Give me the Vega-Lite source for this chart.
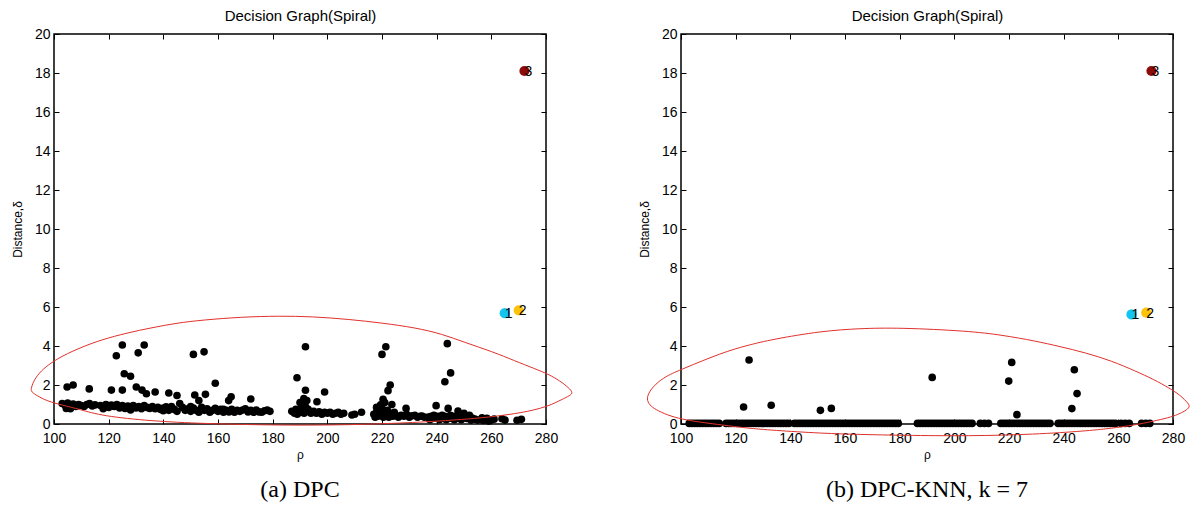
{
  "$schema": "https://vega.github.io/schema/vega-lite/v6.json",
  "background": "white",
  "padding": {"left": 10, "top": 7, "right": 5, "bottom": 5},
  "bounds": "flush",
  "spacing": 135,
  "config": {
    "font": "Liberation Sans",
    "view": {"stroke": "#000000", "strokeWidth": 1.5},
    "axis": {
      "grid": false,
      "domain": false,
      "tickSize": -5,
      "tickColor": "#000000",
      "tickWidth": 1,
      "labelFont": "Liberation Sans",
      "labelFontSize": 14,
      "labelColor": "#000000",
      "labelPadding": 9,
      "labelFlush": false,
      "titleFont": "Liberation Sans",
      "titleFontSize": 12,
      "titleFontWeight": "normal",
      "titleColor": "#000000"
    }
  },
  "datasets": {
    "pa": [
      {"p": 104.8, "d": 1.9}, {"p": 107, "d": 2.0}, {"p": 112.9, "d": 1.8}, {"p": 121, "d": 1.74}, {"p": 125, "d": 1.74},
      {"p": 125, "d": 4.05}, {"p": 122.8, "d": 3.5}, {"p": 130.8, "d": 3.65}, {"p": 133, "d": 4.05}, {"p": 125.7, "d": 2.58},
      {"p": 128, "d": 2.45}, {"p": 130.1, "d": 1.9}, {"p": 132.2, "d": 1.74}, {"p": 133.8, "d": 1.55}, {"p": 137, "d": 1.64},
      {"p": 142, "d": 1.59}, {"p": 145, "d": 1.46}, {"p": 151, "d": 3.57}, {"p": 154.9, "d": 3.7}, {"p": 159, "d": 2.09},
      {"p": 151.5, "d": 1.49}, {"p": 155.4, "d": 1.52}, {"p": 153, "d": 1.2}, {"p": 164.8, "d": 1.4}, {"p": 163.9, "d": 1.2},
      {"p": 172, "d": 1.28},
      {"p": 103, "d": 1.05}, {"p": 104, "d": 0.98}, {"p": 104.5, "d": 0.8}, {"p": 105, "d": 1.08}, {"p": 106, "d": 0.95},
      {"p": 106, "d": 0.78}, {"p": 107, "d": 1.02}, {"p": 108, "d": 0.9}, {"p": 109, "d": 1.0}, {"p": 110, "d": 0.95},
      {"p": 111, "d": 0.9}, {"p": 112, "d": 1.0}, {"p": 113, "d": 1.05}, {"p": 114, "d": 0.92}, {"p": 115, "d": 0.98},
      {"p": 117, "d": 0.95}, {"p": 118, "d": 0.9}, {"p": 118, "d": 0.78}, {"p": 119, "d": 1.0}, {"p": 120, "d": 0.85},
      {"p": 121, "d": 0.97}, {"p": 122, "d": 0.9}, {"p": 123, "d": 1.0}, {"p": 124, "d": 0.82}, {"p": 125, "d": 0.95},
      {"p": 126, "d": 0.8}, {"p": 127, "d": 0.92}, {"p": 128, "d": 0.85}, {"p": 128, "d": 0.72}, {"p": 129, "d": 0.95},
      {"p": 130, "d": 0.82}, {"p": 131, "d": 0.9}, {"p": 132, "d": 0.78}, {"p": 133, "d": 0.95}, {"p": 134, "d": 0.85},
      {"p": 135, "d": 0.8}, {"p": 136, "d": 0.9}, {"p": 137, "d": 0.78}, {"p": 138, "d": 0.85}, {"p": 139, "d": 0.75},
      {"p": 140, "d": 0.82}, {"p": 140, "d": 0.68}, {"p": 141, "d": 0.88}, {"p": 142, "d": 0.7}, {"p": 143, "d": 0.9},
      {"p": 144, "d": 0.75}, {"p": 145, "d": 0.65}, {"p": 146, "d": 1.05}, {"p": 147, "d": 0.85}, {"p": 148, "d": 0.7},
      {"p": 149, "d": 0.78}, {"p": 150, "d": 0.65}, {"p": 150, "d": 0.9}, {"p": 151, "d": 0.82}, {"p": 152, "d": 0.7},
      {"p": 153, "d": 0.6}, {"p": 154, "d": 0.85}, {"p": 155, "d": 0.7}, {"p": 156, "d": 0.78}, {"p": 157, "d": 0.6},
      {"p": 158, "d": 0.7}, {"p": 159, "d": 0.8}, {"p": 160, "d": 0.65}, {"p": 161, "d": 0.75}, {"p": 162, "d": 0.6},
      {"p": 162, "d": 0.75}, {"p": 163, "d": 0.7}, {"p": 164, "d": 0.62}, {"p": 165, "d": 0.75}, {"p": 166, "d": 0.6},
      {"p": 167, "d": 0.7}, {"p": 168, "d": 0.65}, {"p": 169, "d": 0.72}, {"p": 170, "d": 0.78}, {"p": 171, "d": 0.62},
      {"p": 172, "d": 0.7}, {"p": 173, "d": 0.6}, {"p": 174, "d": 0.72}, {"p": 175, "d": 0.62}, {"p": 176, "d": 0.6},
      {"p": 177, "d": 0.68}, {"p": 178, "d": 0.72}, {"p": 179, "d": 0.65},
      {"p": 188.9, "d": 2.37}, {"p": 192, "d": 3.96}, {"p": 192, "d": 1.73}, {"p": 199, "d": 1.64}, {"p": 196.2, "d": 1.14},
      {"p": 191.4, "d": 1.3}, {"p": 190, "d": 1.1}, {"p": 191, "d": 0.95}, {"p": 192.5, "d": 1.2}, {"p": 190.5, "d": 0.85},
      {"p": 187, "d": 0.65}, {"p": 188, "d": 0.55}, {"p": 188.5, "d": 0.75}, {"p": 189, "d": 0.5}, {"p": 190, "d": 0.7},
      {"p": 190.5, "d": 0.6}, {"p": 191, "d": 0.8}, {"p": 191.5, "d": 0.55}, {"p": 192, "d": 0.9}, {"p": 192.5, "d": 0.65},
      {"p": 193, "d": 0.75}, {"p": 194, "d": 0.55}, {"p": 195, "d": 0.65}, {"p": 196, "d": 0.55}, {"p": 197, "d": 0.62},
      {"p": 198, "d": 0.5}, {"p": 199, "d": 0.6}, {"p": 200, "d": 0.55}, {"p": 201, "d": 0.6}, {"p": 202, "d": 0.5},
      {"p": 203, "d": 0.55}, {"p": 204, "d": 0.6}, {"p": 205, "d": 0.5}, {"p": 206, "d": 0.55}, {"p": 209, "d": 0.46},
      {"p": 210, "d": 0.5}, {"p": 212.5, "d": 0.6},
      {"p": 221.4, "d": 3.96}, {"p": 220, "d": 3.57}, {"p": 223, "d": 2.0}, {"p": 222.2, "d": 1.71}, {"p": 220.4, "d": 1.27},
      {"p": 219.5, "d": 0.98}, {"p": 223.6, "d": 1.0}, {"p": 228.8, "d": 0.8}, {"p": 221, "d": 1.1}, {"p": 218, "d": 0.85},
      {"p": 217, "d": 0.5}, {"p": 217.5, "d": 0.35}, {"p": 218, "d": 0.6}, {"p": 218.5, "d": 0.4}, {"p": 219, "d": 0.7},
      {"p": 219.5, "d": 0.45}, {"p": 220, "d": 0.8}, {"p": 220.5, "d": 0.35}, {"p": 221, "d": 0.6}, {"p": 221.5, "d": 0.45},
      {"p": 222, "d": 0.7}, {"p": 222.5, "d": 0.35}, {"p": 223, "d": 0.55}, {"p": 224, "d": 0.4}, {"p": 224.5, "d": 0.6},
      {"p": 225, "d": 0.45}, {"p": 226, "d": 0.35}, {"p": 227, "d": 0.45}, {"p": 228, "d": 0.4}, {"p": 229, "d": 0.5},
      {"p": 230, "d": 0.35}, {"p": 231, "d": 0.42}, {"p": 232, "d": 0.45}, {"p": 233, "d": 0.35}, {"p": 234, "d": 0.4},
      {"p": 234.6, "d": 0.41}, {"p": 235.5, "d": 0.35},
      {"p": 243.9, "d": 4.12}, {"p": 245.1, "d": 2.62}, {"p": 243, "d": 2.17}, {"p": 239.8, "d": 0.94}, {"p": 244.2, "d": 0.8},
      {"p": 247.8, "d": 0.67}, {"p": 250, "d": 0.55}, {"p": 252, "d": 0.44},
      {"p": 237, "d": 0.35}, {"p": 237.5, "d": 0.22}, {"p": 238, "d": 0.4}, {"p": 238.5, "d": 0.28}, {"p": 239, "d": 0.45},
      {"p": 240, "d": 0.3}, {"p": 240.5, "d": 0.4}, {"p": 241, "d": 0.22}, {"p": 241.5, "d": 0.35}, {"p": 242, "d": 0.45},
      {"p": 242.5, "d": 0.28}, {"p": 243, "d": 0.4}, {"p": 243.5, "d": 0.22}, {"p": 244, "d": 0.35}, {"p": 245, "d": 0.45},
      {"p": 245.5, "d": 0.28}, {"p": 246, "d": 0.4}, {"p": 246.5, "d": 0.22}, {"p": 247, "d": 0.35}, {"p": 248, "d": 0.45},
      {"p": 248.5, "d": 0.28}, {"p": 249, "d": 0.22}, {"p": 250, "d": 0.35}, {"p": 251, "d": 0.28}, {"p": 252.5, "d": 0.2},
      {"p": 253, "d": 0.3}, {"p": 254, "d": 0.25}, {"p": 255, "d": 0.2}, {"p": 256.6, "d": 0.32}, {"p": 257, "d": 0.18},
      {"p": 258.4, "d": 0.29}, {"p": 259, "d": 0.15}, {"p": 260, "d": 0.2}, {"p": 261, "d": 0.25}, {"p": 263.9, "d": 0.27},
      {"p": 265, "d": 0.2}, {"p": 269.4, "d": 0.19}, {"p": 271, "d": 0.24}
    ],
    "pb": [
      {"p": 124.9, "d": 3.28}, {"p": 122.9, "d": 0.87}, {"p": 133, "d": 0.96}, {"p": 151, "d": 0.7}, {"p": 155, "d": 0.8},
      {"p": 191.9, "d": 2.39}, {"p": 221, "d": 3.16}, {"p": 219.9, "d": 2.2}, {"p": 222.9, "d": 0.48}, {"p": 243.9, "d": 2.78},
      {"p": 244.9, "d": 1.56}, {"p": 243, "d": 0.79},
      {"p": 103, "d": 0.03}, {"p": 104, "d": 0.03}, {"p": 105, "d": 0.03}, {"p": 106, "d": 0.03}, {"p": 107, "d": 0.03},
      {"p": 108, "d": 0.03}, {"p": 109, "d": 0.03}, {"p": 110, "d": 0.03}, {"p": 111, "d": 0.03}, {"p": 112, "d": 0.03},
      {"p": 113, "d": 0.03}, {"p": 114, "d": 0.03}, {"p": 116.5, "d": 0.03}, {"p": 117.5, "d": 0.03}, {"p": 118.5, "d": 0.03},
      {"p": 119.5, "d": 0.03}, {"p": 120.5, "d": 0.03}, {"p": 121.5, "d": 0.03}, {"p": 122.5, "d": 0.03}, {"p": 123.5, "d": 0.03},
      {"p": 124.5, "d": 0.03}, {"p": 125.5, "d": 0.03}, {"p": 126.5, "d": 0.03}, {"p": 127.5, "d": 0.03}, {"p": 128.5, "d": 0.03},
      {"p": 129.5, "d": 0.03}, {"p": 130.5, "d": 0.03}, {"p": 131.5, "d": 0.03}, {"p": 132.5, "d": 0.03}, {"p": 133.5, "d": 0.03},
      {"p": 134.5, "d": 0.03}, {"p": 135.5, "d": 0.03}, {"p": 136.5, "d": 0.03}, {"p": 137.5, "d": 0.03}, {"p": 138.5, "d": 0.03},
      {"p": 139.5, "d": 0.03}, {"p": 141.5, "d": 0.03}, {"p": 142.5, "d": 0.03}, {"p": 143.5, "d": 0.03}, {"p": 144.5, "d": 0.03},
      {"p": 145.5, "d": 0.03}, {"p": 146.5, "d": 0.03}, {"p": 147.5, "d": 0.03}, {"p": 148.5, "d": 0.03}, {"p": 149.5, "d": 0.03},
      {"p": 150.5, "d": 0.03}, {"p": 151.5, "d": 0.03}, {"p": 152.5, "d": 0.03}, {"p": 153.5, "d": 0.03}, {"p": 154.5, "d": 0.03},
      {"p": 155.5, "d": 0.03}, {"p": 156.5, "d": 0.03}, {"p": 157.5, "d": 0.03}, {"p": 158.5, "d": 0.03}, {"p": 159.5, "d": 0.03},
      {"p": 160.5, "d": 0.03}, {"p": 161.5, "d": 0.03}, {"p": 162.5, "d": 0.03}, {"p": 163.5, "d": 0.03}, {"p": 164.5, "d": 0.03},
      {"p": 165.5, "d": 0.03}, {"p": 166.5, "d": 0.03}, {"p": 167.5, "d": 0.03}, {"p": 168.5, "d": 0.03}, {"p": 169.5, "d": 0.03},
      {"p": 170.5, "d": 0.03}, {"p": 171.5, "d": 0.03}, {"p": 172.5, "d": 0.03}, {"p": 173.5, "d": 0.03}, {"p": 174.5, "d": 0.03},
      {"p": 175.5, "d": 0.03}, {"p": 176.5, "d": 0.03}, {"p": 177.5, "d": 0.03}, {"p": 178.5, "d": 0.03}, {"p": 179.5, "d": 0.03},
      {"p": 186.5, "d": 0.03}, {"p": 187.5, "d": 0.03}, {"p": 188.5, "d": 0.03}, {"p": 189.5, "d": 0.03}, {"p": 190.5, "d": 0.03},
      {"p": 191.5, "d": 0.03}, {"p": 192.5, "d": 0.03}, {"p": 193.5, "d": 0.03}, {"p": 194.5, "d": 0.03}, {"p": 195.5, "d": 0.03},
      {"p": 196.5, "d": 0.03}, {"p": 197.5, "d": 0.03}, {"p": 198.5, "d": 0.03}, {"p": 199.5, "d": 0.03}, {"p": 200.5, "d": 0.03},
      {"p": 201.5, "d": 0.03}, {"p": 202.5, "d": 0.03}, {"p": 203.5, "d": 0.03}, {"p": 204.5, "d": 0.03}, {"p": 205.5, "d": 0.03},
      {"p": 206.5, "d": 0.03}, {"p": 209.5, "d": 0.03}, {"p": 211, "d": 0.03}, {"p": 212.5, "d": 0.03},
      {"p": 217, "d": 0.03}, {"p": 218, "d": 0.03}, {"p": 219, "d": 0.03}, {"p": 220, "d": 0.03}, {"p": 221, "d": 0.03},
      {"p": 222, "d": 0.03}, {"p": 223, "d": 0.03}, {"p": 224, "d": 0.03}, {"p": 225, "d": 0.03}, {"p": 226, "d": 0.03},
      {"p": 227, "d": 0.03}, {"p": 228, "d": 0.03}, {"p": 229, "d": 0.03}, {"p": 230, "d": 0.03}, {"p": 231, "d": 0.03},
      {"p": 232, "d": 0.03}, {"p": 233, "d": 0.03}, {"p": 234, "d": 0.03}, {"p": 235, "d": 0.03},
      {"p": 238, "d": 0.03}, {"p": 239, "d": 0.03}, {"p": 240, "d": 0.03}, {"p": 241, "d": 0.03}, {"p": 242, "d": 0.03},
      {"p": 243, "d": 0.03}, {"p": 244, "d": 0.03}, {"p": 245, "d": 0.03}, {"p": 246, "d": 0.03}, {"p": 247, "d": 0.03},
      {"p": 248, "d": 0.03}, {"p": 249, "d": 0.03}, {"p": 250, "d": 0.03}, {"p": 251, "d": 0.03}, {"p": 252, "d": 0.03},
      {"p": 253, "d": 0.03}, {"p": 254, "d": 0.03}, {"p": 255, "d": 0.03}, {"p": 256, "d": 0.03}, {"p": 257, "d": 0.03},
      {"p": 258, "d": 0.03}, {"p": 259, "d": 0.03}, {"p": 261, "d": 0.03}, {"p": 262.5, "d": 0.03}, {"p": 264, "d": 0.03},
      {"p": 268.5, "d": 0.03}, {"p": 270, "d": 0.03}, {"p": 271.5, "d": 0.03}
    ],
    "ca": [
      {"p": 264.9, "d": 5.68, "k": "1"},
      {"p": 270.0, "d": 5.83, "k": "2"},
      {"p": 272.1, "d": 18.1, "k": "3"}
    ],
    "cb": [
      {"p": 264.8, "d": 5.62, "k": "1"},
      {"p": 270.2, "d": 5.71, "k": "2"},
      {"p": 272.1, "d": 18.1, "k": "3"}
    ],
    "ea": [
      {"i": 1, "p": 91.59, "d": 1.79}, {"i": 2, "p": 92.32, "d": 2.15}, {"i": 3, "p": 94.51, "d": 2.62},
      {"i": 4, "p": 97.8, "d": 3.03}, {"i": 5, "p": 102.93, "d": 3.49}, {"i": 6, "p": 110.24, "d": 3.95},
      {"i": 7, "p": 117.56, "d": 4.33}, {"i": 8, "p": 126.71, "d": 4.67}, {"i": 9, "p": 135.85, "d": 4.94},
      {"i": 10, "p": 145.0, "d": 5.18}, {"i": 11, "p": 154.15, "d": 5.33}, {"i": 12, "p": 168.78, "d": 5.49},
      {"i": 13, "p": 182.32, "d": 5.54}, {"i": 14, "p": 194.39, "d": 5.51}, {"i": 15, "p": 207.82, "d": 5.37},
      {"i": 16, "p": 220.0, "d": 5.18}, {"i": 17, "p": 232.18, "d": 4.94}, {"i": 18, "p": 241.95, "d": 4.62},
      {"i": 19, "p": 250.48, "d": 4.17}, {"i": 20, "p": 260.24, "d": 3.72}, {"i": 21, "p": 268.77, "d": 3.23},
      {"i": 22, "p": 275.61, "d": 2.85}, {"i": 23, "p": 280.99, "d": 2.55}, {"i": 24, "p": 285.12, "d": 2.21},
      {"i": 25, "p": 288.3, "d": 1.86}, {"i": 26, "p": 289.9, "d": 1.61}, {"i": 27, "p": 288.78, "d": 1.46},
      {"i": 28, "p": 285.85, "d": 1.26}, {"i": 29, "p": 280.99, "d": 0.92}, {"i": 30, "p": 274.88, "d": 0.69},
      {"i": 31, "p": 268.77, "d": 0.53}, {"i": 32, "p": 260.24, "d": 0.37}, {"i": 33, "p": 250.48, "d": 0.24},
      {"i": 34, "p": 232.18, "d": 0.07}, {"i": 35, "p": 207.82, "d": -0.05}, {"i": 36, "p": 183.41, "d": -0.07},
      {"i": 37, "p": 154.15, "d": 0.02}, {"i": 38, "p": 135.85, "d": 0.15}, {"i": 39, "p": 117.56, "d": 0.41},
      {"i": 40, "p": 109.51, "d": 0.75}, {"i": 41, "p": 102.93, "d": 0.97}, {"i": 42, "p": 97.44, "d": 1.18},
      {"i": 43, "p": 93.78, "d": 1.45}, {"i": 44, "p": 91.7, "d": 1.65}
    ],
    "eb": [
      {"i": 1, "p": 87.4, "d": 1.27}, {"i": 2, "p": 88.29, "d": 1.64}, {"i": 3, "p": 90.6, "d": 2.04},
      {"i": 4, "p": 94.51, "d": 2.46}, {"i": 5, "p": 100.37, "d": 2.81}, {"i": 6, "p": 115.0, "d": 3.66},
      {"i": 7, "p": 124.15, "d": 4.03}, {"i": 8, "p": 133.29, "d": 4.34}, {"i": 9, "p": 151.59, "d": 4.77},
      {"i": 10, "p": 165.49, "d": 4.9}, {"i": 11, "p": 179.65, "d": 4.94}, {"i": 12, "p": 205.26, "d": 4.77},
      {"i": 13, "p": 217.44, "d": 4.56}, {"i": 14, "p": 229.63, "d": 4.26}, {"i": 15, "p": 238.66, "d": 3.97},
      {"i": 16, "p": 247.92, "d": 3.66}, {"i": 17, "p": 257.68, "d": 3.23}, {"i": 18, "p": 266.21, "d": 2.72},
      {"i": 19, "p": 273.05, "d": 2.28}, {"i": 20, "p": 278.43, "d": 1.86}, {"i": 21, "p": 282.56, "d": 1.49},
      {"i": 22, "p": 285.74, "d": 1.04}, {"i": 23, "p": 286.2, "d": 0.87}, {"i": 24, "p": 284.5, "d": 0.67},
      {"i": 25, "p": 281.83, "d": 0.49}, {"i": 26, "p": 278.43, "d": 0.32}, {"i": 27, "p": 272.32, "d": 0.13},
      {"i": 28, "p": 266.21, "d": -0.05}, {"i": 29, "p": 256.95, "d": -0.23}, {"i": 30, "p": 247.92, "d": -0.36},
      {"i": 31, "p": 229.63, "d": -0.53}, {"i": 32, "p": 205.26, "d": -0.62}, {"i": 33, "p": 180.85, "d": -0.58},
      {"i": 34, "p": 166.22, "d": -0.54}, {"i": 35, "p": 151.59, "d": -0.48}, {"i": 36, "p": 133.29, "d": -0.32},
      {"i": 37, "p": 124.15, "d": -0.21}, {"i": 38, "p": 115.0, "d": -0.05}, {"i": 39, "p": 107.68, "d": 0.08},
      {"i": 40, "p": 100.37, "d": 0.24}, {"i": 41, "p": 94.88, "d": 0.46}, {"i": 42, "p": 90.6, "d": 0.75},
      {"i": 43, "p": 88.5, "d": 0.97}
    ]
  },
  "hconcat": [
    {
      "width": 492,
      "height": 390,
      "title": {"text": "(a) DPC", "orient": "bottom", "anchor": "middle", "font": "Liberation Serif", "fontSize": 24, "fontWeight": "normal", "color": "#000000", "offset": 18},
      "layer": [
        {
          "data": {"name": "pa"},
          "mark": {"type": "circle", "color": "#000000", "size": 58, "opacity": 1},
          "encoding": {
            "x": {"field": "p", "type": "quantitative", "scale": {"domain": [100, 280], "nice": false, "zero": false},
                  "axis": {"orient": "bottom", "values": [100, 120, 140, 160, 180, 200, 220, 240, 260, 280], "labelPadding": 12, "title": "ρ", "titlePadding": 4}},
            "y": {"field": "d", "type": "quantitative", "scale": {"domain": [0, 20], "nice": false, "zero": false},
                  "axis": {"orient": "left", "values": [0, 2, 4, 6, 8, 10, 12, 14, 16, 18, 20], "title": "Distance,δ", "titlePadding": 10}}
          }
        },
        {
          "data": {"name": "ca"},
          "mark": {"type": "circle", "opacity": 1},
          "encoding": {
            "x": {"field": "p", "type": "quantitative", "axis": null},
            "y": {"field": "d", "type": "quantitative", "axis": null},
            "color": {"field": "k", "type": "nominal", "scale": {"domain": ["1", "2", "3"], "range": ["#14c4f0", "#fcc30c", "#8c0b0b"]}, "legend": null},
            "size": {"field": "k", "type": "ordinal", "scale": {"domain": ["1", "2", "3"], "range": [105, 100, 135]}, "legend": null}
          }
        },
        {
          "data": {"name": "ca"},
          "mark": {"type": "text", "dx": 4, "dy": 1, "fontSize": 14, "color": "#000000", "align": "center", "baseline": "middle"},
          "encoding": {
            "x": {"field": "p", "type": "quantitative", "axis": null},
            "y": {"field": "d", "type": "quantitative", "axis": null},
            "text": {"field": "k"}
          }
        },
        {
          "data": {"name": "ea"},
          "mark": {"type": "line", "color": "#e0312b", "strokeWidth": 1, "interpolate": "basis-closed", "clip": false},
          "encoding": {
            "x": {"field": "p", "type": "quantitative",
                  "axis": {"orient": "top", "labels": false, "values": [100, 120, 140, 160, 180, 200, 220, 240, 260, 280], "title": "Decision Graph(Spiral)", "titleFontSize": 15, "titlePadding": 10}},
            "y": {"field": "d", "type": "quantitative",
                  "axis": {"orient": "right", "labels": false, "values": [0, 2, 4, 6, 8, 10, 12, 14, 16, 18, 20], "title": null}},
            "order": {"field": "i"}
          }
        }
      ],
      "resolve": {"axis": {"x": "independent", "y": "independent"}}
    },
    {
      "width": 492,
      "height": 390,
      "title": {"text": "(b) DPC-KNN, k = 7", "orient": "bottom", "anchor": "middle", "font": "Liberation Serif", "fontSize": 24, "fontWeight": "normal", "color": "#000000", "offset": 18},
      "layer": [
        {
          "data": {"name": "pb"},
          "mark": {"type": "circle", "color": "#000000", "size": 58, "opacity": 1},
          "encoding": {
            "x": {"field": "p", "type": "quantitative", "scale": {"domain": [100, 280], "nice": false, "zero": false},
                  "axis": {"orient": "bottom", "values": [100, 120, 140, 160, 180, 200, 220, 240, 260, 280], "labelPadding": 12, "title": "ρ", "titlePadding": 4}},
            "y": {"field": "d", "type": "quantitative", "scale": {"domain": [0, 20], "nice": false, "zero": false},
                  "axis": {"orient": "left", "values": [0, 2, 4, 6, 8, 10, 12, 14, 16, 18, 20], "title": "Distance,δ", "titlePadding": 10}}
          }
        },
        {
          "data": {"name": "cb"},
          "mark": {"type": "circle", "opacity": 1},
          "encoding": {
            "x": {"field": "p", "type": "quantitative", "axis": null},
            "y": {"field": "d", "type": "quantitative", "axis": null},
            "color": {"field": "k", "type": "nominal", "scale": {"domain": ["1", "2", "3"], "range": ["#14c4f0", "#fcc30c", "#8c0b0b"]}, "legend": null},
            "size": {"field": "k", "type": "ordinal", "scale": {"domain": ["1", "2", "3"], "range": [105, 100, 135]}, "legend": null}
          }
        },
        {
          "data": {"name": "cb"},
          "mark": {"type": "text", "dx": 4, "dy": 1, "fontSize": 14, "color": "#000000", "align": "center", "baseline": "middle"},
          "encoding": {
            "x": {"field": "p", "type": "quantitative", "axis": null},
            "y": {"field": "d", "type": "quantitative", "axis": null},
            "text": {"field": "k"}
          }
        },
        {
          "data": {"name": "eb"},
          "mark": {"type": "line", "color": "#e0312b", "strokeWidth": 1, "interpolate": "basis-closed", "clip": false},
          "encoding": {
            "x": {"field": "p", "type": "quantitative",
                  "axis": {"orient": "top", "labels": false, "values": [100, 120, 140, 160, 180, 200, 220, 240, 260, 280], "title": "Decision Graph(Spiral)", "titleFontSize": 15, "titlePadding": 10}},
            "y": {"field": "d", "type": "quantitative",
                  "axis": {"orient": "right", "labels": false, "values": [0, 2, 4, 6, 8, 10, 12, 14, 16, 18, 20], "title": null}},
            "order": {"field": "i"}
          }
        }
      ],
      "resolve": {"axis": {"x": "independent", "y": "independent"}}
    }
  ]
}
